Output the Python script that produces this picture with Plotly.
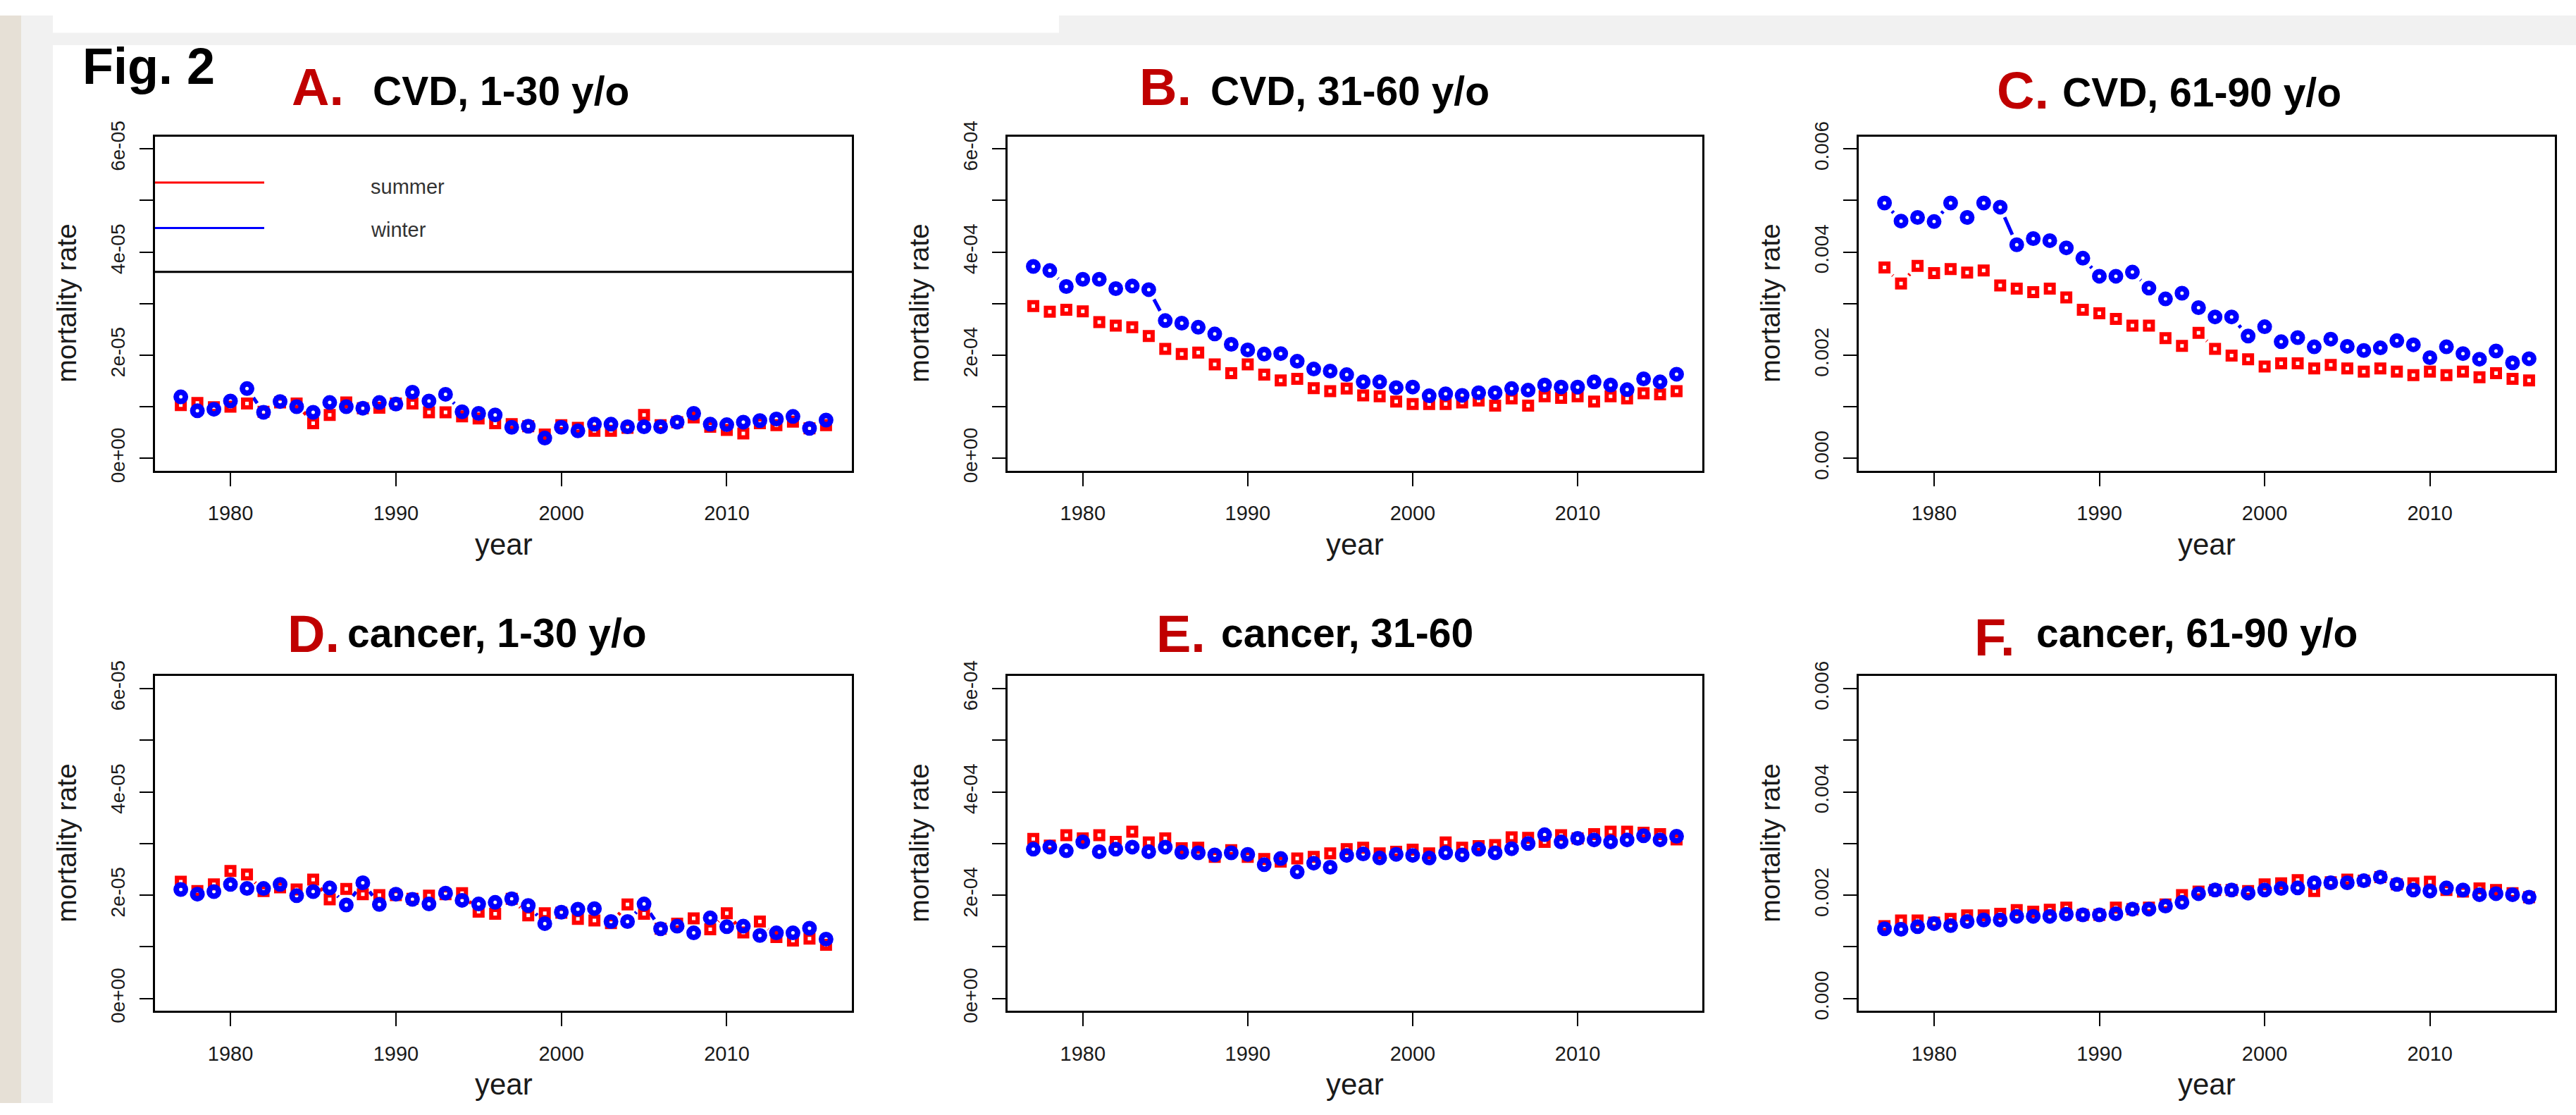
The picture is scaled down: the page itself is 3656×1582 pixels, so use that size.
import math
import plotly.graph_objects as go

# ---------------- data ----------------
years = list(range(1977, 2017))

# CVD, 1-30 y/o  (x 1e-5)
cvd_1_30_summer = [1.03, 1.07, 0.99, 1.00, 1.06, 0.90, 1.08, 1.06, 0.68, 0.84,
                   1.08, 0.97, 0.98, 1.06, 1.06, 0.89, 0.89, 0.81, 0.77, 0.68,
                   0.66, 0.62, 0.46, 0.64, 0.59, 0.53, 0.53, 0.59, 0.84, 0.64,
                   0.70, 0.79, 0.61, 0.55, 0.48, 0.68, 0.64, 0.71, 0.58, 0.64]
cvd_1_30_winter = [1.19, 0.92, 0.95, 1.11, 1.35, 0.89, 1.10, 1.00, 0.89, 1.08,
                   1.00, 0.97, 1.08, 1.05, 1.28, 1.11, 1.24, 0.90, 0.87, 0.84,
                   0.60, 0.62, 0.39, 0.60, 0.53, 0.66, 0.66, 0.61, 0.61, 0.61,
                   0.70, 0.87, 0.66, 0.65, 0.70, 0.73, 0.76, 0.81, 0.58, 0.74]

# CVD, 31-60 y/o  (x 1e-4)
cvd_31_60_summer = [2.95, 2.84, 2.88, 2.85, 2.64, 2.57, 2.54, 2.37, 2.12, 2.02,
                    2.05, 1.82, 1.65, 1.82, 1.62, 1.51, 1.54, 1.36, 1.30, 1.35,
                    1.22, 1.20, 1.10, 1.05, 1.05, 1.05, 1.08, 1.12, 1.02, 1.16,
                    1.02, 1.20, 1.17, 1.20, 1.10, 1.20, 1.16, 1.26, 1.24, 1.30]
cvd_31_60_winter = [3.72, 3.64, 3.33, 3.47, 3.47, 3.29, 3.34, 3.27, 2.67, 2.62,
                    2.54, 2.41, 2.21, 2.10, 2.02, 2.03, 1.88, 1.73, 1.69, 1.62,
                    1.48, 1.48, 1.37, 1.38, 1.21, 1.25, 1.22, 1.27, 1.27, 1.35,
                    1.32, 1.42, 1.38, 1.38, 1.48, 1.42, 1.33, 1.54, 1.48, 1.63]

# CVD, 61-90 y/o  (x 1e-3)
cvd_61_90_summer = [3.70, 3.39, 3.73, 3.59, 3.67, 3.60, 3.64, 3.35, 3.29, 3.22,
                    3.29, 3.12, 2.88, 2.81, 2.70, 2.57, 2.57, 2.33, 2.18, 2.43,
                    2.12, 1.99, 1.92, 1.78, 1.84, 1.84, 1.74, 1.81, 1.74, 1.68,
                    1.74, 1.68, 1.61, 1.68, 1.61, 1.68, 1.57, 1.65, 1.54, 1.51]
cvd_61_90_winter = [4.95, 4.60, 4.67, 4.59, 4.95, 4.67, 4.95, 4.87, 4.14, 4.26,
                    4.22, 4.08, 3.88, 3.53, 3.53, 3.61, 3.30, 3.09, 3.20, 2.92,
                    2.74, 2.74, 2.37, 2.55, 2.26, 2.34, 2.16, 2.31, 2.17, 2.09,
                    2.14, 2.28, 2.20, 1.95, 2.16, 2.03, 1.92, 2.08, 1.85, 1.93]

# cancer, 1-30 y/o  (x 1e-5)
cancer_1_30_summer = [2.26, 2.08, 2.21, 2.47, 2.40, 2.08, 2.15, 2.11, 2.30, 1.92,
                      2.12, 2.02, 2.00, 2.00, 1.93, 1.99, 2.02, 2.04, 1.68, 1.64,
                      1.93, 1.61, 1.65, 1.66, 1.54, 1.51, 1.46, 1.82, 1.64, 1.35,
                      1.45, 1.55, 1.34, 1.65, 1.28, 1.49, 1.19, 1.12, 1.16, 1.04]
cancer_1_30_winter = [2.11, 2.02, 2.07, 2.21, 2.13, 2.13, 2.21, 1.99, 2.07, 2.14,
                      1.81, 2.24, 1.82, 2.02, 1.92, 1.83, 2.04, 1.90, 1.83, 1.86,
                      1.93, 1.80, 1.45, 1.67, 1.73, 1.74, 1.49, 1.49, 1.83, 1.35,
                      1.40, 1.27, 1.56, 1.39, 1.40, 1.22, 1.27, 1.27, 1.36, 1.15]

# cancer, 31-60  (x 1e-4)
cancer_31_60_summer = [3.09, 2.96, 3.16, 3.10, 3.16, 3.03, 3.23, 3.02, 3.10, 2.91,
                       2.92, 2.74, 2.87, 2.74, 2.70, 2.65, 2.71, 2.74, 2.81, 2.89,
                       2.92, 2.81, 2.84, 2.88, 2.81, 3.02, 2.92, 2.95, 2.97, 3.12,
                       3.11, 3.03, 3.16, 3.10, 3.18, 3.23, 3.23, 3.21, 3.18, 3.08]
cancer_31_60_winter = [2.89, 2.93, 2.86, 3.03, 2.84, 2.89, 2.93, 2.84, 2.93, 2.83,
                       2.82, 2.78, 2.82, 2.79, 2.59, 2.71, 2.45, 2.62, 2.54, 2.77,
                       2.80, 2.72, 2.79, 2.77, 2.72, 2.82, 2.78, 2.89, 2.82, 2.90,
                       3.00, 3.17, 3.03, 3.10, 3.07, 3.03, 3.07, 3.15, 3.07, 3.14]

# cancer, 61-90 y/o  (x 1e-3)
cancer_61_90_summer = [1.40, 1.51, 1.51, 1.47, 1.54, 1.61, 1.61, 1.64, 1.71, 1.68,
                       1.72, 1.76, 1.62, 1.62, 1.76, 1.73, 1.76, 1.82, 2.00, 2.07,
                       2.10, 2.10, 2.08, 2.21, 2.23, 2.29, 2.08, 2.25, 2.30, 2.28,
                       2.35, 2.21, 2.23, 2.26, 2.10, 2.07, 2.13, 2.10, 2.04, 1.96]
cancer_61_90_winter = [1.35, 1.34, 1.39, 1.45, 1.41, 1.49, 1.52, 1.52, 1.59, 1.59,
                       1.59, 1.63, 1.62, 1.62, 1.64, 1.73, 1.73, 1.79, 1.86, 2.03,
                       2.10, 2.10, 2.04, 2.10, 2.13, 2.14, 2.24, 2.24, 2.24, 2.28,
                       2.35, 2.21, 2.10, 2.08, 2.14, 2.10, 2.01, 2.03, 2.01, 1.96]

x_ticks = [1980, 1990, 2000, 2010]
ticks_e5 = ["0e+00", "", "2e-05", "", "4e-05", "", "6e-05"]
ticks_e4 = ["0e+00", "", "2e-04", "", "4e-04", "", "6e-04"]
ticks_dec = ["0.000", "", "0.002", "", "0.004", "", "0.006"]

panel_letters = ["A.", "B.", "C.", "D.", "E.", "F."]
panel_titles = ["CVD, 1-30 y/o", "CVD, 31-60 y/o", "CVD, 61-90 y/o",
                "cancer, 1-30 y/o", "cancer, 31-60", "cancer, 61-90 y/o"]

# ---------------- layout geometry (pixels) ----------------
W, H = 3656, 1582
panels = [
    dict(s=cvd_1_30_summer, w=cvd_1_30_winter, unit=1e-5, ymax=6e-5, tt=ticks_e5, box=(220, 1209, 176, 662)),
    dict(s=cvd_31_60_summer, w=cvd_31_60_winter, unit=1e-4, ymax=6e-4, tt=ticks_e4, box=(1430, 2416, 176, 662)),
    dict(s=cvd_61_90_summer, w=cvd_61_90_winter, unit=1e-3, ymax=6e-3, tt=ticks_dec, box=(2638, 3626, 176, 662)),
    dict(s=cancer_1_30_summer, w=cancer_1_30_winter, unit=1e-5, ymax=6e-5, tt=ticks_e5, box=(220, 1209, 961, 1448)),
    dict(s=cancer_31_60_summer, w=cancer_31_60_winter, unit=1e-4, ymax=6e-4, tt=ticks_e4, box=(1430, 2416, 961, 1448)),
    dict(s=cancer_61_90_summer, w=cancer_61_90_winter, unit=1e-3, ymax=6e-3, tt=ticks_dec, box=(2638, 3626, 961, 1448)),
]
# title positions: (letter_left, letter_baseline, text_left, text_baseline)
title_pos = [(412, 130, 527, 130), (1615, 130, 1716, 130), (2832, 135, 2925, 132),
             (406, 926, 491, 918), (1639, 926, 1731, 918), (2800, 931, 2888, 918)]

def px(x):
    return x / W

def py(y):
    return 1 - y / H

FONT = "Liberation Sans, Arial, sans-serif"
RED = "#FF0000"
BLUE = "#0000FF"
GAP_PX = 16  # R type="b": gap left around each point


def gapped_segments(xv, yv, xr, yr, wpx, hpx, gap):
    """Segments between consecutive points, shortened by `gap` pixels at both ends
    (the look of R's type='b'), returned in data coordinates."""
    sx = wpx / (xr[1] - xr[0])
    sy = hpx / (yr[1] - yr[0])
    xs, ys = [], []
    for k in range(len(xv) - 1):
        dx = (xv[k + 1] - xv[k]) * sx
        dy = (yv[k + 1] - yv[k]) * sy
        d = math.hypot(dx, dy)
        if d > 2 * gap:
            f = gap / d
            xs += [xv[k] + f * (xv[k + 1] - xv[k]), xv[k + 1] - f * (xv[k + 1] - xv[k]), None]
            ys += [yv[k] + f * (yv[k + 1] - yv[k]), yv[k + 1] - f * (yv[k + 1] - yv[k]), None]
    return xs, ys


fig = go.Figure()
layout = dict(
    width=W, height=H,
    margin=dict(l=0, r=0, t=0, b=0),
    paper_bgcolor="white", plot_bgcolor="white",
    showlegend=False,
    font=dict(family=FONT, color="#1a1a1a"),
)
annotations = []
shapes = []

x_lo = years[0] - 0.04 * (years[-1] - years[0])
x_hi = years[-1] + 0.04 * (years[-1] - years[0])

for i, p in enumerate(panels):
    sfx = "" if i == 0 else str(i + 1)
    x0, x1, y0, y1 = p["box"]
    ymax = p["ymax"]
    yr = [-0.04 * ymax, 1.04 * ymax]
    ys_summer = [v * p["unit"] for v in p["s"]]
    ys_winter = [v * p["unit"] for v in p["w"]]

    for yv, col in ((ys_summer, RED), (ys_winter, BLUE)):
        sx_, sy_ = gapped_segments(years, yv, (x_lo, x_hi), yr, x1 - x0, y1 - y0, GAP_PX)
        if sx_:
            fig.add_trace(go.Scatter(x=sx_, y=sy_, mode="lines", line=dict(color=col, width=5),
                                     xaxis="x" + sfx, yaxis="y" + sfx, hoverinfo="skip"))

    fig.add_trace(go.Scatter(
        x=years, y=ys_summer, mode="markers", name="summer",
        marker=dict(symbol="square-open", size=11, color=RED, line=dict(width=6, color=RED)),
        xaxis="x" + sfx, yaxis="y" + sfx, cliponaxis=False))
    fig.add_trace(go.Scatter(
        x=years, y=ys_winter, mode="markers", name="winter",
        marker=dict(symbol="circle-open", size=13, color=BLUE, line=dict(width=8, color=BLUE)),
        xaxis="x" + sfx, yaxis="y" + sfx, cliponaxis=False))

    layout["xaxis" + sfx] = dict(
        domain=[px(x0), px(x1)], anchor="y" + sfx, range=[x_lo, x_hi],
        tickmode="array", tickvals=x_ticks, ticktext=[str(t) for t in x_ticks],
        ticks="outside", ticklen=19, tickwidth=2, tickcolor="black",
        showline=True, linecolor="black", linewidth=3, mirror=True,
        showgrid=False, zeroline=False, ticklabelstandoff=14,
        tickfont=dict(size=29, family=FONT, color="#1a1a1a"))
    layout["yaxis" + sfx] = dict(
        domain=[py(y1), py(y0)], anchor="x" + sfx, range=yr,
        tickmode="array", tickvals=[k * ymax / 6 for k in range(7)], ticktext=p["tt"],
        tickangle=-90, ticks="outside", ticklen=19, tickwidth=2, tickcolor="black",
        showline=True, linecolor="black", linewidth=3, mirror=True,
        showgrid=False, zeroline=False, ticklabelstandoff=10,
        tickfont=dict(size=28, family=FONT, color="#1a1a1a"))

    # axis titles
    annotations.append(dict(text="year", x=px((x0 + x1) / 2), y=py(y1 + 107),
                            xref="paper", yref="paper", showarrow=False,
                            xanchor="center", yanchor="middle",
                            font=dict(size=42, family=FONT, color="#1a1a1a")))
    annotations.append(dict(text="mortality rate", x=px(x0 - 125), y=py((y0 + y1) / 2),
                            xref="paper", yref="paper", showarrow=False, textangle=-90,
                            xanchor="center", yanchor="middle",
                            font=dict(size=39, family=FONT, color="#1a1a1a")))
    # panel titles
    lx, lb, tx, tb = title_pos[i]
    annotations.append(dict(text=panel_letters[i], x=px(lx), y=py(lb - 0.35 * 74),
                            xref="paper", yref="paper", showarrow=False,
                            xanchor="left", yanchor="middle",
                            font=dict(size=74, family="Liberation Sans", color="#C00000", weight="bold")))
    annotations.append(dict(text=panel_titles[i], x=px(tx), y=py(tb - 0.35 * 57),
                            xref="paper", yref="paper", showarrow=False,
                            xanchor="left", yanchor="middle",
                            font=dict(size=57, family=FONT, color="black", weight="bold")))

# legend inside panel A (box bottom edge spans the panel)
shapes.append(dict(type="line", xref="x domain", yref="y domain", x0=0, x1=1,
                   y0=(662 - 373) / 486, y1=(662 - 373) / 486,
                   line=dict(color="black", width=3)))
shapes.append(dict(type="line", xref="x domain", yref="y domain", x0=0, x1=155 / 989,
                   y0=(662 - 243) / 486, y1=(662 - 243) / 486, line=dict(color=RED, width=3)))
shapes.append(dict(type="line", xref="x domain", yref="y domain", x0=0, x1=155 / 989,
                   y0=(662 - 309) / 486, y1=(662 - 309) / 486, line=dict(color=BLUE, width=3)))
annotations.append(dict(text="summer", x=px(524), y=py(259 - 0.35 * 29), xref="paper", yref="paper",
                        showarrow=False, xanchor="left", yanchor="middle",
                        font=dict(size=29, family=FONT, color="#333333")))
annotations.append(dict(text="winter", x=px(524), y=py(322 - 0.35 * 29), xref="paper", yref="paper",
                        showarrow=False, xanchor="left", yanchor="middle",
                        font=dict(size=29, family=FONT, color="#333333")))

# figure label
annotations.append(dict(text="Fig. 2", x=px(115), y=py(99 - 0.35 * 72), xref="paper", yref="paper",
                        showarrow=False, xanchor="left", yanchor="middle",
                        font=dict(size=72, family=FONT, color="black", weight="bold")))

# page background pieces (slide frame)
shapes += [
    dict(type="rect", xref="paper", yref="paper", x0=0, x1=px(30), y0=0, y1=1,
         fillcolor="#E6E0D6", line=dict(width=0), layer="below"),
    dict(type="rect", xref="paper", yref="paper", x0=px(30), x1=px(75), y0=0, y1=1,
         fillcolor="#F1F1F1", line=dict(width=0), layer="below"),
    dict(type="rect", xref="paper", yref="paper", x0=px(75), x1=1, y0=py(43), y1=1,
         fillcolor="#F1F1F1", line=dict(width=0), layer="below"),
    dict(type="rect", xref="paper", yref="paper", x0=px(75), x1=px(1503), y0=py(25), y1=1,
         fillcolor="white", line=dict(width=0), layer="below"),
]

layout["annotations"] = annotations
layout["shapes"] = shapes
fig.update_layout(**layout)

pin_page = (
    "document.documentElement.style.margin='0px';"
    "document.documentElement.style.overflow='hidden';"
    "document.body.style.margin='0px';"
    "document.body.style.overflow='hidden';"
    "var gdiv=document.getElementById('{plot_id}');"
    "gdiv.style.position='fixed';gdiv.style.left='0px';gdiv.style.top='0px';"
)
fig.write_html("out.html", config={"displayModeBar": False}, post_script=pin_page)
